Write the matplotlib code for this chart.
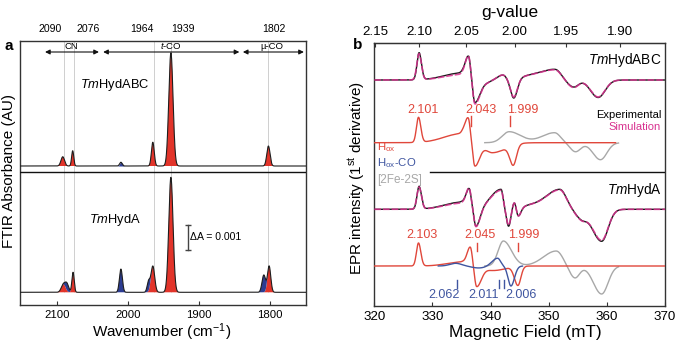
import numpy as np
import matplotlib
matplotlib.use("Agg")
import matplotlib.pyplot as plt
from matplotlib.transforms import blended_transform_factory

plt.rcParams['font.family'] = ['Liberation Sans', 'DejaVu Sans']
plt.rcParams['mathtext.fontset'] = 'custom'
plt.rcParams['mathtext.rm'] = 'Liberation Sans'
plt.rcParams['mathtext.it'] = 'Liberation Sans:italic'
plt.rcParams['mathtext.bf'] = 'Liberation Sans:bold'
plt.rcParams['axes.unicode_minus'] = False

# ======================= DATA =======================
# ---- Panel a: FTIR ----
ftir_xlim = (2153, 1749)
ftir_xticks = [2100, 2000, 1900, 1800]
band_positions = [2090, 2076, 1964, 1939, 1802]
band_labels = ['2090', '2076', '1964', '1939', '1802']
region_labels = ['CN', r'$\mathit{t}$-CO', 'µ-CO']
region_limits = [(2117, 2041), (2035, 1843), (1838, 1752)]
region_label_pos = [2080, 1939, 1797.6]

# TmHydABC peaks (cm-1, absorbance, sigma)
abc_red_center = [2092, 2078, 1965, 1939.5, 1802]
abc_red_height = [0.00037, 0.00061, 0.00095, 0.00453, 0.00080]
abc_red_sigma = [2.5, 1.5, 2.0, 3.0, 2.3]
abc_blue_center = [2010]
abc_blue_height = [0.00015]
abc_blue_sigma = [1.8]

# TmHydA peaks
hyda_red_center = [2091, 2077.5, 1965, 1939.5, 1801]
hyda_red_height = [0.00032, 0.00080, 0.00105, 0.00460, 0.00105]
hyda_red_sigma = [3.0, 1.6, 2.6, 3.0, 2.3]
hyda_blue_center = [2086, 2010, 1971, 1808.5]
hyda_blue_height = [0.00030, 0.00093, 0.00042, 0.00069]
hyda_blue_sigma = [2.5, 2.1, 2.0, 2.5]
scale_bar_value = 0.001

# ---- Panel b: EPR ----
field_xlim = (320, 370)
field_xticks = [320, 330, 340, 350, 360, 370]
g_ticks = [2.15, 2.10, 2.05, 2.00, 1.95, 1.90]
hnu_over_muB = 688.3   # mT, resonance field = hnu_over_muB / g

# peaks: (field mT, amplitude, left width, right width)
abc_exp_peaks = [
    (327.7, 27.0, 0.35, 0.40), (335.0, 7.0, 3.0, 0.60), (336.2, 23.0, 0.55, 0.35),
    (337.3, -22.0, 0.35, 0.80), (338.8, -3.0, 0.8, 1.2), (342.1, 5.0, 1.0, 0.6),
    (344.0, -19.0, 0.55, 0.60), (346.5, 3.0, 1.5, 2.0), (351.1, 10.5, 2.5, 1.0),
    (354.3, -7.0, 1.0, 0.8), (358.5, -17.5, 1.3, 1.2),
]
abc_sim_peaks = [
    (327.7, 26.0, 0.38, 0.40), (335.0, 5.5, 3.0, 0.60), (336.2, 23.5, 0.55, 0.35),
    (337.3, -23.5, 0.35, 0.80), (338.8, -3.0, 0.8, 1.2), (342.1, 5.0, 1.0, 0.6),
    (344.0, -18.0, 0.55, 0.60), (346.5, 3.0, 1.5, 2.0), (351.1, 10.0, 2.5, 1.0),
    (354.3, -7.5, 1.0, 0.8), (358.5, -17.0, 1.3, 1.2),
]
abc_hox_peaks = [
    (327.6, 25.0, 0.35, 0.40), (335.0, 9.0, 3.0, 0.60), (336.15, 23.5, 0.55, 0.35),
    (337.3, -23.0, 0.35, 0.80), (340.3, -10.0, 1.2, 2.2), (343.9, -20.0, 0.6, 0.55),
]
abc_fes_peaks = [
    (343.2, 11.0, 1.2, 2.0), (351.0, 10.0, 2.2, 1.0),
    (354.6, -9.0, 0.9, 0.9), (358.9, -17.0, 1.3, 1.1),
]
hyda_exp_peaks = [
    (327.7, 22.6, 0.35, 0.40), (334.8, 7.0, 2.8, 0.70), (336.3, 20.0, 0.55, 0.35),
    (337.5, -18.0, 0.35, 0.70), (341.8, 20.0, 1.8, 0.35), (343.1, -17.0, 0.35, 0.35),
    (344.1, 7.0, 0.30, 0.30), (344.75, -8.0, 0.30, 0.45), (346.5, 2.5, 1.0, 1.5),
    (351.9, 20.0, 2.5, 1.1), (355.6, -8.0, 1.0, 0.8), (359.1, -32.0, 1.6, 1.1),
]
hyda_sim_peaks = [
    (327.7, 22.0, 0.37, 0.40), (334.8, 6.0, 2.8, 0.70), (336.3, 20.5, 0.55, 0.35),
    (337.5, -18.5, 0.35, 0.70), (341.8, 19.0, 1.8, 0.35), (343.1, -16.0, 0.35, 0.35),
    (344.1, 7.0, 0.30, 0.30), (344.75, -8.0, 0.30, 0.45), (346.5, 2.5, 1.0, 1.5),
    (351.9, 19.5, 2.5, 1.1), (355.6, -8.5, 1.0, 0.8), (359.1, -31.0, 1.6, 1.1),
]
hyda_hox_peaks = [
    (327.6, 23.0, 0.35, 0.40), (335.0, 4.0, 2.5, 0.60), (336.5, 19.0, 0.55, 0.35),
    (337.6, -20.0, 0.35, 0.80), (340.5, -4.5, 1.5, 2.0), (344.7, -19.0, 0.6, 0.5),
]
hyda_hoxco_peaks = [
    (334.0, 2.7, 1.0, 1.0), (338.0, -2.0, 1.2, 1.5),
    (341.2, 8.0, 1.0, 0.5), (343.5, -20.0, 0.5, 0.6),
]
hyda_fes_peaks = [
    (342.2, 25.0, 0.9, 1.4), (351.3, 15.0, 2.2, 1.1),
    (354.5, -12.0, 0.9, 0.8), (359.1, -28.0, 1.4, 1.1),
]
abc_hox_span = (320, 361.5)
abc_fes_span = (339.0, 362.0)
hyda_hox_span = (320, 370)
hyda_hoxco_span = (331.0, 345.5)
hyda_fes_span = (339.0, 362.0)

abc_hox_g = ['2.101', '2.043', '1.999']
hyda_hox_g = ['2.103', '2.045', '1.999']
hyda_hoxco_g = ['2.062', '2.011', '2.006']
abc_hox_tick_field = [336.6, 343.3]
hyda_hox_tick_field = [337.6, 344.7]
hyda_hoxco_tick_field = [334.2, 341.5, 342.3]

# ======================= STYLE / LAYOUT =======================
W, H = 677, 344
RED = '#e2342a'
BLUE = '#2c3c92'
ERED = '#e0473b'
EBLUE = '#3f55a0'
EGRAY = '#a8a8a8'
MAG = '#d8318f'
FRAME = '#333333'


def rect(l, t, r, b):
    return [l / W, 1 - b / H, (r - l) / W, (b - t) / H]


def gsum(x, centers, heights, sigmas):
    y = np.zeros_like(x)
    for c, h, s in zip(centers, heights, sigmas):
        y += h * np.exp(-0.5 * ((x - c) / s) ** 2)
    return y


def psum(x, peaks):
    y = np.zeros_like(x)
    for c, a, wl, wr in peaks:
        w = np.where(x < c, wl, wr)
        y += a * np.exp(-0.5 * ((x - c) / w) ** 2)
    return y


fig = plt.figure(figsize=(6.77, 3.44), dpi=100)

# ---------------- Panel a ----------------
axa = fig.add_axes(rect(19.5, 41, 306, 305))
pxa = 4e-5  # absorbance per pixel
axa.set_xlim(*ftir_xlim)
axa.set_ylim(0, 264 * pxa)
off_abc = (305 - 166) * pxa
off_hyda = (305 - 292.3) * pxa
div_a = (305 - 172) * pxa

wn = np.linspace(ftir_xlim[0], ftir_xlim[1], 4000)
for off, rc, rh, rs, bc, bh, bs in [
        (off_abc, abc_red_center, abc_red_height, abc_red_sigma,
         abc_blue_center, abc_blue_height, abc_blue_sigma),
        (off_hyda, hyda_red_center, hyda_red_height, hyda_red_sigma,
         hyda_blue_center, hyda_blue_height, hyda_blue_sigma)]:
    red = gsum(wn, rc, rh, rs)
    blue = gsum(wn, bc, bh, bs)
    axa.fill_between(wn, off, off + red, where=red > 2e-6, color=RED, lw=0, zorder=2)
    axa.fill_between(wn, off + red, off + red + blue, where=blue > 2e-6, color=BLUE, lw=0, zorder=2)
    axa.plot(wn, off + red + blue, color='#1e1e1e', lw=0.8, zorder=3)

axa.vlines(band_positions, off_hyda, 264 * pxa, color='#cfcfcf', lw=0.7, zorder=1)
axa.axhline(div_a, color='#111111', lw=1.0, zorder=4)

trans_a = blended_transform_factory(axa.transData, axa.transAxes)
band_label_x = [2110.5, 2056.5, 1980, 1923, 1794.6]
for x0, lab in zip(band_label_x, band_labels):
    axa.text(x0, (305 - 29) / 264, lab, transform=trans_a, ha='center', va='center',
             fontsize=7.6, clip_on=False)
arrow_y = (305 - 52) / 264
for (x1, x2), lab, xl in zip(region_limits, region_labels, region_label_pos):
    axa.annotate('', xy=(x2, arrow_y), xytext=(x1, arrow_y), xycoords=trans_a,
                 textcoords=trans_a,
                 arrowprops=dict(arrowstyle='<|-|>', color='#111111', lw=0.8,
                                 mutation_scale=7, shrinkA=0, shrinkB=0))
    axa.text(xl, (305 - 51) / 264, lab, transform=trans_a, ha='center', va='bottom',
             fontsize=6.8)

# scale bar
sb_x = 1915.8
sb_bot = (305 - 250) * pxa
axa.plot([sb_x, sb_x], [sb_bot, sb_bot + scale_bar_value], color='#444444', lw=1.0)
axa.plot([sb_x, sb_x], [sb_bot, sb_bot + scale_bar_value], ls='none', marker='_',
         ms=5, mew=1.0, color='#444444')
axa.text(1912.5, sb_bot + scale_bar_value / 2, 'ΔA = ' + f'{scale_bar_value:.3f}',
         ha='left', va='center', fontsize=7.6)
axa.text(2019.4, (305 - 85) * pxa, r'$\mathit{Tm}$HydABC', ha='center', va='center',
         fontsize=9.3)
axa.text(2018, (305 - 220) * pxa, r'$\mathit{Tm}$HydA', ha='center', va='center',
         fontsize=9.3)

axa.set_xticks(ftir_xticks)
axa.set_xticklabels([str(t) for t in ftir_xticks])
axa.set_yticks([])
axa.tick_params(axis='x', direction='in', length=3, width=0.8, labelsize=8.2, pad=3.5,
                color=FRAME)
for s in axa.spines.values():
    s.set_color(FRAME)
    s.set_linewidth(1.0)

fig.text(9 / W, 1 - 171 / H, 'FTIR Absorbance (AU)', rotation=90, ha='center',
         va='center', fontsize=11)
fig.text(161.7 / W, 1 - 332 / H, r'Wavenumber (cm$^{\mathregular{-1}}$)', ha='center',
         va='center', fontsize=11)
fig.text(8.5 / W, 1 - 46 / H, 'a', fontweight='bold', ha='center', va='center',
         fontsize=11)

# ---------------- Panel b ----------------
axb = fig.add_axes(rect(374.3, 42.7, 665, 305.7))
axb.set_xlim(*field_xlim)
axb.set_ylim(0, 263)
off_abc_exp = 305.7 - 80
off_abc_comp = 305.7 - 142.7
off_hyda_exp = 305.7 - 209.3
off_hyda_comp = 305.7 - 266

B = np.linspace(field_xlim[0], field_xlim[1], 4000)


def span(peaks, sp):
    m = (B >= sp[0]) & (B <= sp[1])
    return B[m], psum(B[m], peaks)


# experimental / simulation
for off, ep, sp in [(off_abc_exp, abc_exp_peaks, abc_sim_peaks),
                    (off_hyda_exp, hyda_exp_peaks, hyda_sim_peaks)]:
    axb.plot(B, off + psum(B, ep), color='#1a1a1a', lw=1.0, zorder=3)
    axb.plot(B, off + psum(B, sp), color=MAG, lw=1.2, dashes=(4, 1.2), alpha=0.85,
             zorder=4)

# components (top)
xb, yb = span(abc_fes_peaks, abc_fes_span)
axb.plot(xb, off_abc_comp + yb, color=EGRAY, lw=1.0, zorder=2)
xb, yb = span(abc_hox_peaks, abc_hox_span)
axb.plot(xb, off_abc_comp + yb, color=ERED, lw=1.0, zorder=3)
# components (bottom)
xb, yb = span(hyda_fes_peaks, hyda_fes_span)
axb.plot(xb, off_hyda_comp + yb, color=EGRAY, lw=1.0, zorder=2)
xb, yb = span(hyda_hox_peaks, hyda_hox_span)
axb.plot(xb, off_hyda_comp + yb, color=ERED, lw=1.0, zorder=3)
xb, yb = span(hyda_hoxco_peaks, hyda_hoxco_span)
axb.plot(xb, off_hyda_comp + yb, color=EBLUE, lw=1.0, zorder=4)

# divider
axb.plot([329.6, 370], [305.7 - 171.7] * 2, color='#111111', lw=1.0, zorder=5)

# g labels and marker ticks
abc_lab_x = [328.3, 338.4, 345.6]
for x0, lab in zip(abc_lab_x, abc_hox_g):
    axb.text(x0, 305.7 - 110, lab, color=ERED, ha='center', va='center', fontsize=9)
for x0 in abc_hox_tick_field:
    axb.plot([x0, x0], [305.7 - 126, 305.7 - 116], color=ERED, lw=1.0)
hyda_lab_x = [328.2, 338.2, 345.7]
for x0, lab in zip(hyda_lab_x, hyda_hox_g):
    axb.text(x0, 305.7 - 235, lab, color=ERED, ha='center', va='center', fontsize=9)
for x0 in hyda_hox_tick_field:
    axb.plot([x0, x0], [305.7 - 251, 305.7 - 243], color=ERED, lw=1.0)
hyda_co_lab_x = [332.0, 338.8, 345.3]
for x0, lab in zip(hyda_co_lab_x, hyda_hoxco_g):
    axb.text(x0, 305.7 - 295, lab, color=EBLUE, ha='center', va='center', fontsize=9)
for x0 in hyda_hoxco_tick_field:
    axb.plot([x0, x0], [305.7 - 287.5, 305.7 - 280], color=EBLUE, lw=1.0)

# legend-like texts
axb.text(369.4, 305.7 - 115, 'Experimental', ha='right', va='center', fontsize=8)
axb.text(369.3, 305.7 - 127, 'Simulation', ha='right', va='center', fontsize=8,
         color=MAG)
axb.text(320.5, 305.7 - 147.5, r'H$_{\mathregular{ox}}$', ha='left', va='center',
         fontsize=8.2, color=ERED)
axb.text(320.5, 305.7 - 163, r'H$_{\mathregular{ox}}$-CO', ha='left', va='center',
         fontsize=8.2, color=EBLUE)
axb.text(320.5, 305.7 - 180, '[2Fe-2S]', ha='left', va='center', fontsize=8.5,
         color=EGRAY)
axb.text(369.4, 305.7 - 60, r'$\mathit{Tm}$HydABC', ha='right', va='center',
         fontsize=9.8)
axb.text(369.4, 305.7 - 190, r'$\mathit{Tm}$HydA', ha='right', va='center',
         fontsize=9.8)

axb.set_xticks(field_xticks)
axb.set_xticklabels([str(t) for t in field_xticks])
axb.set_yticks([])
axb.tick_params(axis='x', direction='in', length=3, width=0.8, labelsize=9.6, pad=3.5,
                color=FRAME)
for s in axb.spines.values():
    s.set_color(FRAME)
    s.set_linewidth(1.0)


def b2g(x):
    x = np.asarray(x, dtype=float)
    with np.errstate(divide='ignore'):
        return hnu_over_muB / x


secax = axb.secondary_xaxis('top', functions=(b2g, b2g))
secax.set_xticks(g_ticks)
secax.set_xticklabels([f'{g:.2f}' for g in g_ticks])
secax.tick_params(direction='in', length=3, width=0.8, labelsize=9.6, pad=3.5,
                  color=FRAME)
secax.spines['top'].set_color(FRAME)

fig.text(510 / W, 1 - 12 / H, 'g-value', ha='center', va='center', fontsize=12.5)
fig.text(525.8 / W, 1 - 332 / H, 'Magnetic Field (mT)', ha='center', va='center',
         fontsize=12.3)
fig.text(357 / W, 1 - 178.5 / H, r'EPR intensity (1$^{\mathregular{st}}$ derivative)',
         rotation=90, ha='center', va='center', fontsize=11)
fig.text(358 / W, 1 - 45 / H, 'b', fontweight='bold', ha='center', va='center',
         fontsize=11)

fig.savefig('out.png', dpi=100)
